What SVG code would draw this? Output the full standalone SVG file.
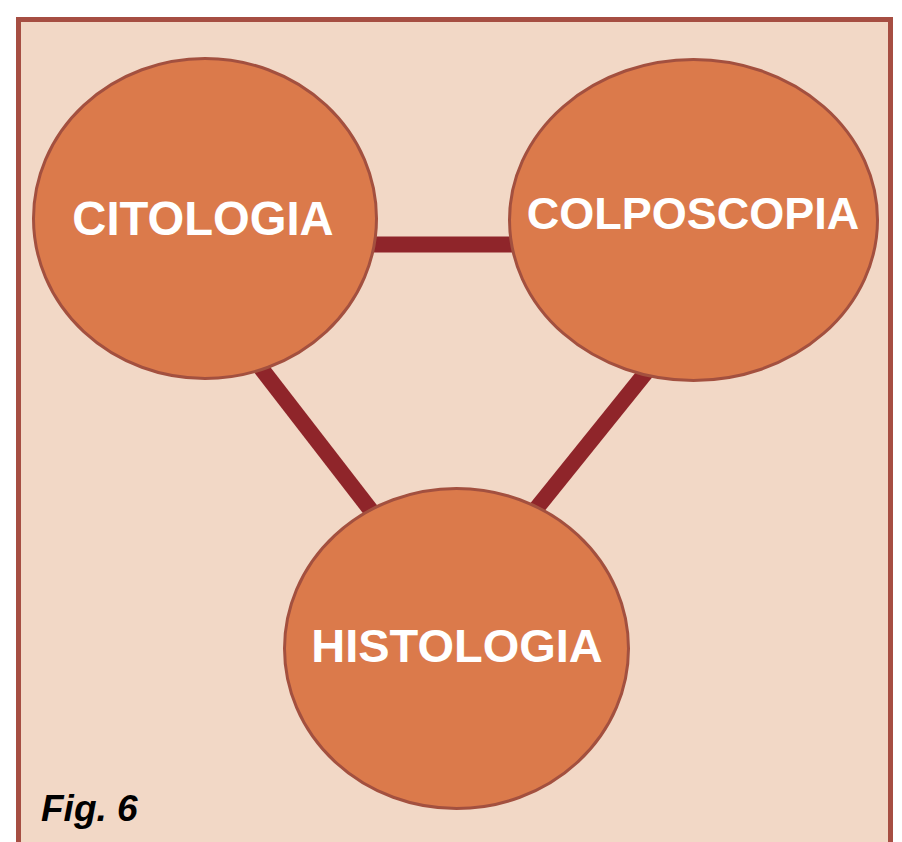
<svg xmlns="http://www.w3.org/2000/svg" width="902" height="842" viewBox="0 0 902 842">
  <style>
    .node { fill: #DB7A4B; stroke: #A3503F; stroke-width: 3; }
    .label { font-family: "Liberation Sans", Arial, sans-serif; font-weight: bold; fill: #FFFFFF; text-anchor: middle; }
    .conn { stroke: #8F252A; stroke-width: 16; stroke-linecap: butt; fill: none; }
  </style>
  <rect x="0" y="0" width="902" height="842" fill="#FFFFFF"/>
  <rect id="frame" x="18.5" y="19.5" width="872" height="850" fill="#F2D8C6" stroke="#A64E42" stroke-width="5"/>
  <g id="connectors">
    <line class="conn" x1="360" y1="244.5" x2="530" y2="244.5"/>
    <line class="conn" x1="240" y1="341" x2="400" y2="548"/>
    <line class="conn" x1="668" y1="345" x2="515" y2="535"/>
  </g>
  <g id="citologia">
    <ellipse class="node" cx="205" cy="218.5" rx="171.5" ry="160"/>
    <text class="label" x="203" y="235" font-size="47.2">CITOLOGIA</text>
  </g>
  <g id="colposcopia">
    <ellipse class="node" cx="693.5" cy="220" rx="184" ry="160.5"/>
    <text class="label" x="693" y="229" font-size="45">COLPOSCOPIA</text>
  </g>
  <g id="histologia">
    <ellipse class="node" cx="456.5" cy="648.5" rx="172" ry="160"/>
    <text class="label" x="457" y="662" font-size="47">HISTOLOGIA</text>
  </g>
  <text id="fig-label" x="41" y="821" font-family="'Liberation Sans', Arial, sans-serif" font-weight="bold" font-style="italic" font-size="37" fill="#000000">Fig. 6</text>
</svg>
